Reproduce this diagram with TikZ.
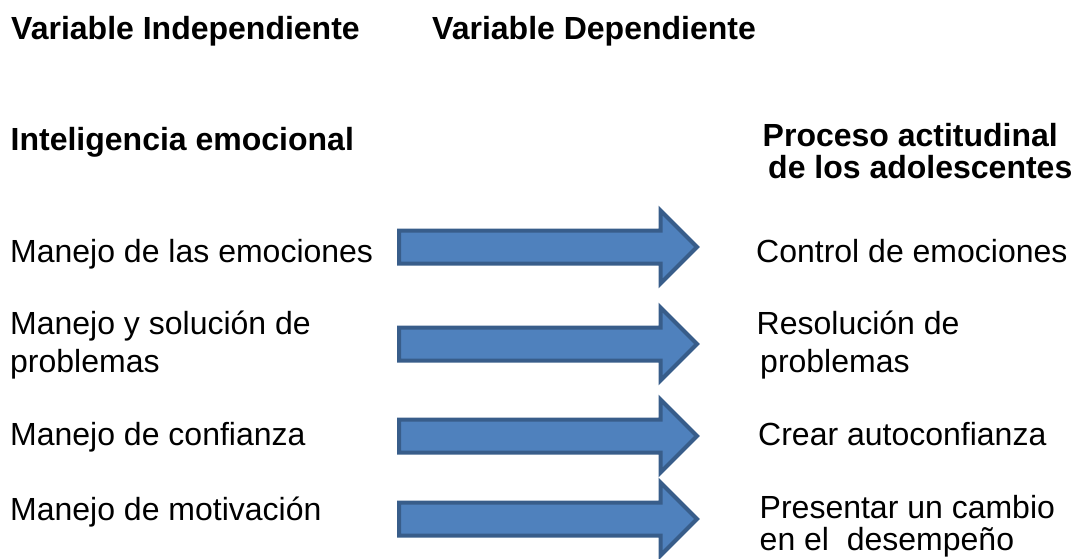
\documentclass[tikz,border=0pt]{standalone}
\usepackage{fontspec}
\setmainfont{Liberation Sans}
\usepackage{tikz}
\usetikzlibrary{shapes.arrows}

\definecolor{arrowfill}{HTML}{4F81BD}
\definecolor{arrowline}{HTML}{385D8A}

\begin{document}
\begin{tikzpicture}[x={1pt},y={-1pt}]

\tikzstyle{heading}=[anchor={base west},inner sep={0pt},align={left},font={\fontsize{32}{32}\selectfont\bfseries}]
\tikzstyle{entry}=[anchor={base west},inner sep={0pt},align={left},font={\fontsize{32}{38}\selectfont}]
\tikzstyle{blockarrow}=[single arrow,draw={arrowline},fill={arrowfill},line width={4pt},anchor={tail},single arrow head extend={20pt},single arrow tip angle={90},minimum height={298pt},inner xsep={0pt},inner ysep={14.5pt},text height={0pt},text depth={0pt}]

\useasboundingbox (0,0) rectangle (1081,559) ;

% headings (multi-line nodes sit on their last baseline)

\node at (11,40)    [heading] (VI) {Variable Independiente} ;
\node at (432,40)   [heading] (VD) {Variable Dependiente} ;
\node at (10.5,150) [heading] (IE) {Inteligencia emocional} ;
\node at (762.5,178) [heading] (PA) {Proceso actitudinal\\\hspace*{5.5pt}de los adolescentes} ;

% entries: left

\node at (10,262) [entry] (L1) {Manejo de las emociones} ;
\node at (10,372) [entry] (L2) {Manejo y soluci\'on de\\problemas} ;
\node at (10,445) [entry] (L3) {Manejo de confianza} ;
\node at (10,520) [entry] (L4) {Manejo de motivaci\'on} ;

% entries: right

\node at (756,262)   [entry] (R1) {Control de emociones} ;
\node at (756.5,372) [entry] (R2) {Resoluci\'on de\\\hspace*{3.5pt}problemas} ;
\node at (758,445)   [entry] (R3) {Crear autoconfianza} ;
\node at (759.5,550) [entry,font={\fontsize{32}{32}\selectfont}] (R4) {Presentar un cambio\\en el\ \ desempe\~no} ;

% arrows

\node at (397,247) [blockarrow] (A1) {} ;
\node at (397,344) [blockarrow] (A2) {} ;
\node at (397,436) [blockarrow] (A3) {} ;
\node at (397,519) [blockarrow] (A4) {} ;

\end{tikzpicture}
\end{document}
